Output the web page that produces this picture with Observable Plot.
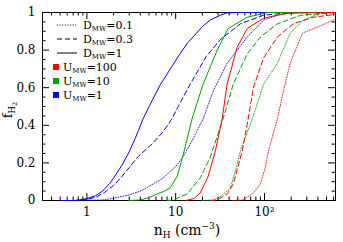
<!DOCTYPE html>
<html><head><meta charset="utf-8">
<script src="https://cdn.jsdelivr.net/npm/d3@7"></script>
<script src="https://cdn.jsdelivr.net/npm/@observablehq/plot@0.6"></script>
<style>
html,body{margin:0;padding:0;background:#fff;}
#chart svg{display:block;}
</style></head><body><div id="chart"></div>
<script>
// ---- data: n_H (cm^-3) and f_H2 for each curve ----
const u1d1_n = [0.5, 0.75, 1.0, 1.25, 1.5, 1.8, 2.0, 2.5, 3.0, 3.5, 4.3, 5.4, 6.7, 8.7, 11, 13.5, 15.7, 20, 24.5, 31.7, 38, 50, 630];
const u1d1_f = [0, 0, 0.01, 0.025, 0.05, 0.09, 0.12, 0.19, 0.26, 0.33, 0.435, 0.53, 0.615, 0.70, 0.775, 0.836, 0.87, 0.925, 0.96, 0.985, 0.998, 1, 1];
const u1d03_n = [0.7, 1.0, 1.3, 1.6, 2.0, 2.4, 3.0, 3.8, 5.4, 7.2, 9.1, 10.4, 14.6, 18.9, 22, 31.7, 53.6, 98, 195, 630];
const u1d03_f = [0, 0.005, 0.02, 0.045, 0.08, 0.12, 0.175, 0.235, 0.30, 0.365, 0.435, 0.49, 0.62, 0.71, 0.765, 0.855, 0.94, 0.986, 0.999, 1];
const u1d01_n = [1.0, 1.5, 2, 3, 4, 5, 7, 10, 12, 15, 20.4, 26.6, 38, 64, 98, 150, 250, 630];
const u1d01_f = [0, 0.003, 0.012, 0.03, 0.05, 0.075, 0.115, 0.18, 0.23, 0.31, 0.435, 0.585, 0.73, 0.87, 0.96, 0.99, 1, 1];
const u10d1_n = [3, 4, 5, 6.2, 7.5, 8.7, 10.4, 11.8, 13.5, 15.3, 20.4, 29.4, 39, 64, 108, 630];
const u10d1_f = [0, 0.003, 0.015, 0.035, 0.05, 0.067, 0.13, 0.22, 0.33, 0.435, 0.62, 0.80, 0.915, 0.975, 1, 1];
const u10d03_n = [8, 9.4, 13.5, 18.9, 24.5, 34.2, 44.6, 64, 90, 140, 255, 630];
const u10d03_f = [0, 0.003, 0.035, 0.12, 0.23, 0.435, 0.62, 0.78, 0.87, 0.94, 0.985, 1];
const u10d01_n = [20, 26.6, 31.7, 41.4, 47, 53.6, 73, 98, 140, 195, 275, 430, 630];
const u10d01_f = [0, 0.003, 0.02, 0.067, 0.157, 0.264, 0.435, 0.62, 0.73, 0.89, 0.96, 0.997, 1];
const u100d1_n = [13, 16, 18.9, 23.3, 28, 33.4, 38, 49.2, 64, 98, 183, 630];
const u100d1_f = [0, 0.01, 0.04, 0.13, 0.264, 0.435, 0.62, 0.815, 0.915, 0.97, 0.997, 1];
const u100d03_n = [25, 29.4, 38, 44.6, 50.5, 56.3, 65.6, 75, 98, 140, 211, 358, 630];
const u100d03_f = [0, 0.003, 0.035, 0.088, 0.184, 0.264, 0.435, 0.60, 0.76, 0.87, 0.94, 0.975, 0.99];
const u100d01_n = [45, 57.7, 75, 90, 102, 111, 140, 164, 195, 268, 430, 630];
const u100d01_f = [0, 0.003, 0.04, 0.088, 0.174, 0.264, 0.435, 0.585, 0.73, 0.89, 0.93, 0.965];

const uLabels = ["100", "10", "1"];
const dLabels = ["0.1", "0.3", "1"];
const xTickLabels = {1: "1", 10: "10", 100: "10\u00b2"};
const xMajor = [1, 10, 100];
const xMinor = [0.4, 0.5, 0.6, 0.7, 0.8, 0.9, 2, 3, 4, 5, 6, 7, 8, 9, 20, 30, 40, 50, 60, 70, 80, 90, 200, 300, 400, 500, 600];
const yMajor = [0, 0.2, 0.4, 0.6, 0.8, 1];
const yMinor = [0.05, 0.1, 0.15, 0.25, 0.3, 0.35, 0.45, 0.5, 0.55, 0.65, 0.7, 0.75, 0.85, 0.9, 0.95];

// ---- styles ----
const uColor = {"100": "#ff0000", "10": "#00a000", "1": "#0000ff"};
const dDash = {"0.1": "1,1.6", "0.3": "5,3", "1": null};
const dWidth = {"0.1": 0.85, "0.3": 1, "1": 1};

const series = [
  {U: "1", D: "1", n: u1d1_n, f: u1d1_f},
  {U: "1", D: "0.3", n: u1d03_n, f: u1d03_f},
  {U: "1", D: "0.1", n: u1d01_n, f: u1d01_f},
  {U: "10", D: "1", n: u10d1_n, f: u10d1_f},
  {U: "10", D: "0.3", n: u10d03_n, f: u10d03_f},
  {U: "10", D: "0.1", n: u10d01_n, f: u10d01_f},
  {U: "100", D: "1", n: u100d1_n, f: u100d1_f},
  {U: "100", D: "0.3", n: u100d03_n, f: u100d03_f},
  {U: "100", D: "0.1", n: u100d01_n, f: u100d01_f}
];

const W = 343, H = 242, mL = 42, mR = 8, mT = 12, mB = 42;
const iw = W - mL - mR, ih = H - mT - mB;
const FONT = "DejaVu Serif";

const lineMarks = series.map(s => Plot.line(s.n.map((n, i) => ({n, f: s.f[i]})), {
  x: "n", y: "f", stroke: uColor[s.U], strokeWidth: dWidth[s.D],
  strokeDasharray: dDash[s.D] || undefined
}));

const plot = Plot.plot({
  width: W, height: H,
  marginLeft: mL, marginRight: mR, marginTop: mT, marginBottom: mB,
  style: {fontFamily: FONT, fontSize: "12px", color: "#000", background: "#fff"},
  x: {type: "log", domain: [Math.pow(10, -0.5), Math.pow(10, 2.8)], label: null},
  y: {domain: [0, 1], label: null},
  marks: [
    Plot.frame({stroke: "#000"}),
    Plot.tickX(xMajor, {insetTop: ih - 7, stroke: "#000"}),
    Plot.tickX(xMajor, {insetBottom: ih - 7, stroke: "#000"}),
    Plot.tickX(xMinor, {insetTop: ih - 3.5, stroke: "#000"}),
    Plot.tickX(xMinor, {insetBottom: ih - 3.5, stroke: "#000"}),
    Plot.tickY(yMajor, {insetRight: iw - 7, stroke: "#000"}),
    Plot.tickY(yMajor, {insetLeft: iw - 7, stroke: "#000"}),
    Plot.tickY(yMinor, {insetRight: iw - 3.5, stroke: "#000"}),
    Plot.tickY(yMinor, {insetLeft: iw - 3.5, stroke: "#000"}),
    Plot.axisX(xMajor, {tickSize: 0, tickPadding: 7, tickFormat: d => xTickLabels[d], fontSize: 12, label: null}),
    Plot.axisY(yMajor, {tickSize: 0, tickPadding: 7, tickFormat: d => (d === 0 ? "0" : d === 1 ? "1" : d.toFixed(1)), fontSize: 12, label: null}),
    ...lineMarks
  ]
});
document.getElementById("chart").appendChild(plot);

// ---- legend and axis titles (text with sub/superscripts) ----
const svg = d3.select(plot);
const g = svg.append("g").attr("font-family", FONT).attr("font-size", 11).attr("fill", "#000")
  .attr("text-anchor", "start");
const rowY0 = 25, rowStep = 14;
dLabels.forEach((d, i) => {
  const cy = rowY0 + i * rowStep;
  const ln = g.append("line").attr("x1", 57).attr("x2", 77).attr("y1", cy).attr("y2", cy)
    .attr("stroke", "#000").attr("stroke-width", 1);
  if (dDash[d]) ln.attr("stroke-dasharray", dDash[d]);
  const t = g.append("text").attr("x", 83).attr("y", cy + 4).attr("text-anchor", "start");
  t.append("tspan").text("D");
  t.append("tspan").attr("font-size", 7).attr("dy", 2).text("MW");
  t.append("tspan").attr("dy", -2).text("=" + d);
});
uLabels.forEach((u, i) => {
  const cy = rowY0 + (i + 3) * rowStep;
  g.append("rect").attr("x", 53).attr("y", cy - 3).attr("width", 6).attr("height", 6).attr("fill", uColor[u]);
  const t = g.append("text").attr("x", 63).attr("y", cy + 4).attr("text-anchor", "start");
  t.append("tspan").text("U");
  t.append("tspan").attr("font-size", 7).attr("dy", 2).text("MW");
  t.append("tspan").attr("dy", -2).text("=" + u);
});

const yl = svg.append("text").attr("font-family", FONT).attr("font-size", 13).attr("fill", "#000")
  .attr("text-anchor", "middle").attr("transform", "translate(12,110) rotate(-90)");
yl.append("tspan").text("f");
yl.append("tspan").attr("font-size", 8.5).attr("dy", 3).text("H");
yl.append("tspan").attr("font-size", 6.5).attr("dy", 2).text("2");

const xl = svg.append("text").attr("font-family", FONT).attr("font-size", 14).attr("fill", "#000")
  .attr("text-anchor", "middle").attr("x", 187).attr("y", 235);
xl.append("tspan").text("n");
xl.append("tspan").attr("font-size", 9).attr("dy", 3).text("H");
xl.append("tspan").attr("dy", -3).text("\u00a0(cm");
xl.append("tspan").attr("font-size", 9).attr("dy", -6).text("\u22123");
xl.append("tspan").attr("dy", 6).text(")");
</script></body></html>
